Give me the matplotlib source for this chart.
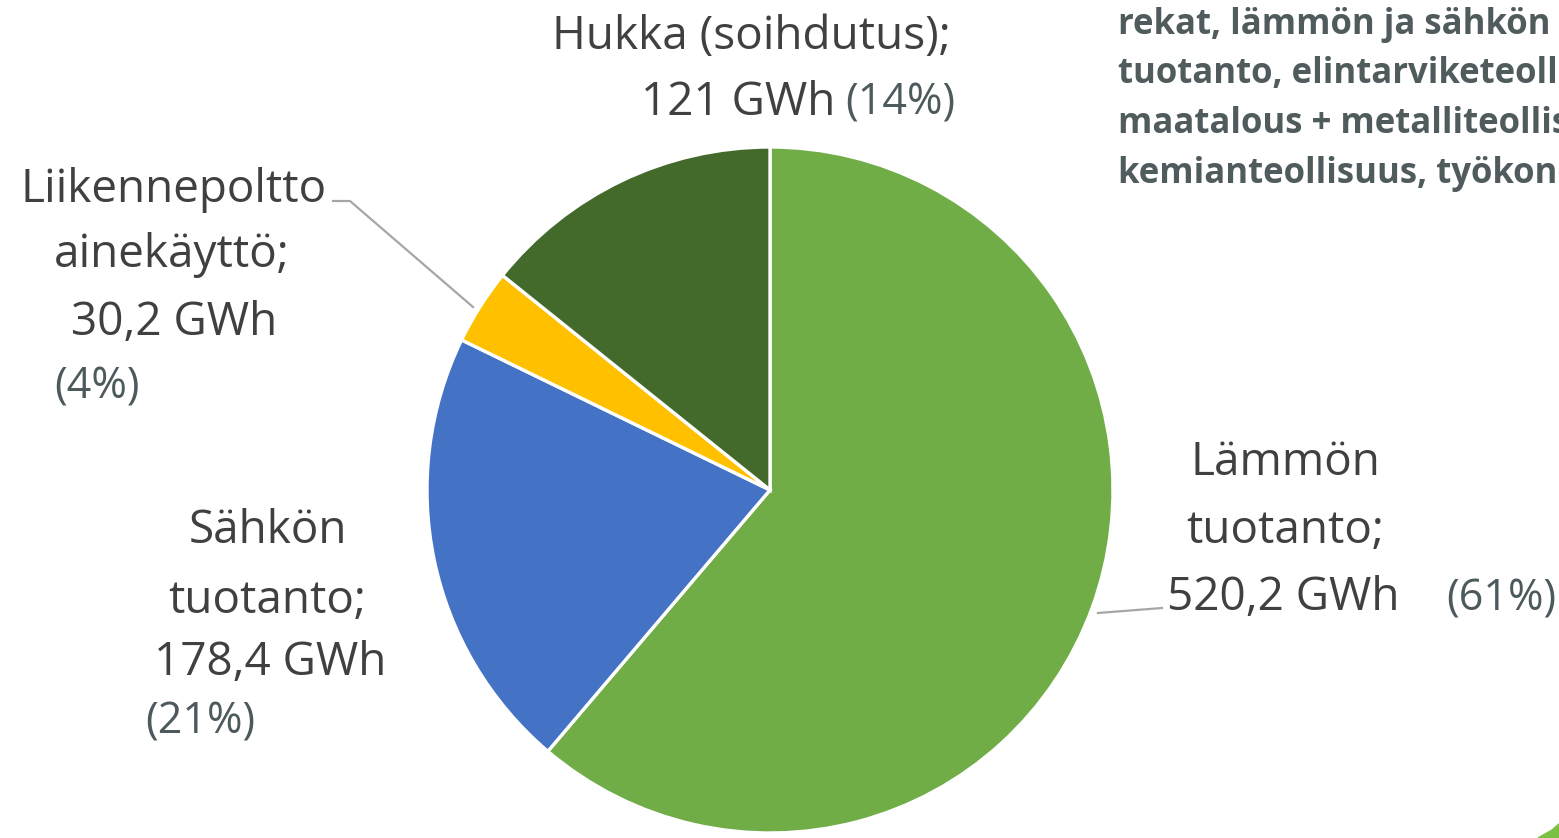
import matplotlib.pyplot as plt
from matplotlib.patches import Polygon

W, H = 1559, 838

# data
categories = ["Lämmön tuotanto", "Sähkön tuotanto", "Liikennepoltto ainekäyttö", "Hukka (soihdutus)"]
values_gwh = [520.2, 178.4, 30.2, 121.0]
value_labels = ["520,2 GWh", "178,4 GWh", "30,2 GWh", "121 GWh"]
pct_labels = ["(61%)", "(21%)", "(4%)", "(14%)"]
colors = ["#70AD47", "#4472C4", "#FFC000", "#436A2B"]

note_lines = [
    "rekat, lämmön ja sähkön",
    "tuotanto, elintarviketeollisuus,",
    "maatalous + metalliteollisuus,",
    "kemianteollisuus, työkoneet",
]

FONT = "Open Sans"
LBL = "#404040"
PCT = "#4D5A5D"
SZ = 33
PSZ = 31

fig = plt.figure(figsize=(W / 100, H / 100), dpi=100)
ax = fig.add_axes([0, 0, 1, 1])

ax.pie(values_gwh, colors=colors, startangle=90, counterclock=False,
       center=(770, H - 490), radius=343, frame=True,
       wedgeprops=dict(edgecolor="white", linewidth=2.4))
ax.set_xlim(0, W)
ax.set_ylim(0, H)
ax.set_aspect("equal")
ax.axis("off")


def txt(x, y, s, color=LBL, size=SZ, ha="center", weight="normal"):
    ax.text(x, H - y, s, ha=ha, va="baseline", fontsize=size, color=color,
            family=FONT, fontweight=weight)


# Hukka
txt(751, 49, categories[3] + ";")
txt(835, 115, value_labels[3], ha="right")
txt(845, 115, pct_labels[3], color=PCT, size=PSZ, ha="left")

# Liikennepoltto
txt(174, 202, "Liikennepoltto")
txt(172, 267, "ainekäyttö;")
txt(174, 335, value_labels[2])
txt(97, 398, pct_labels[2], color=PCT, size=PSZ)
ax.plot([333, 350, 473], [H - 201, H - 201, H - 307], color="#A6A6A6", lw=1.6)

# Sähkön
txt(268, 543, "Sähkön")
txt(267, 613, "tuotanto;")
txt(270, 675, value_labels[1])
txt(200, 733, pct_labels[1], color=PCT, size=PSZ)

# Lämmön
txt(1285, 475, "Lämmön")
txt(1285, 543, "tuotanto;")
txt(1283, 610, value_labels[0])
txt(1501, 610, pct_labels[0], color=PCT, size=PSZ)
ax.plot([1098, 1162], [H - 613, H - 608], color="#A6A6A6", lw=1.6)

# note text, cut by the right edge as in the source
for i, line in enumerate(note_lines):
    txt(1118, 34 + i * 49.5, line, color="#505B5E", size=25, ha="left", weight="bold")

# green corner stroke
fig.patches.append(Polygon([[1538 / W, 0], [1559 / W, 0], [1559 / W, 14 / H], [1552 / W, 8 / H]],
                           closed=True, transform=fig.transFigure, color="#7AC143"))

fig.savefig("out.png", dpi=100)
